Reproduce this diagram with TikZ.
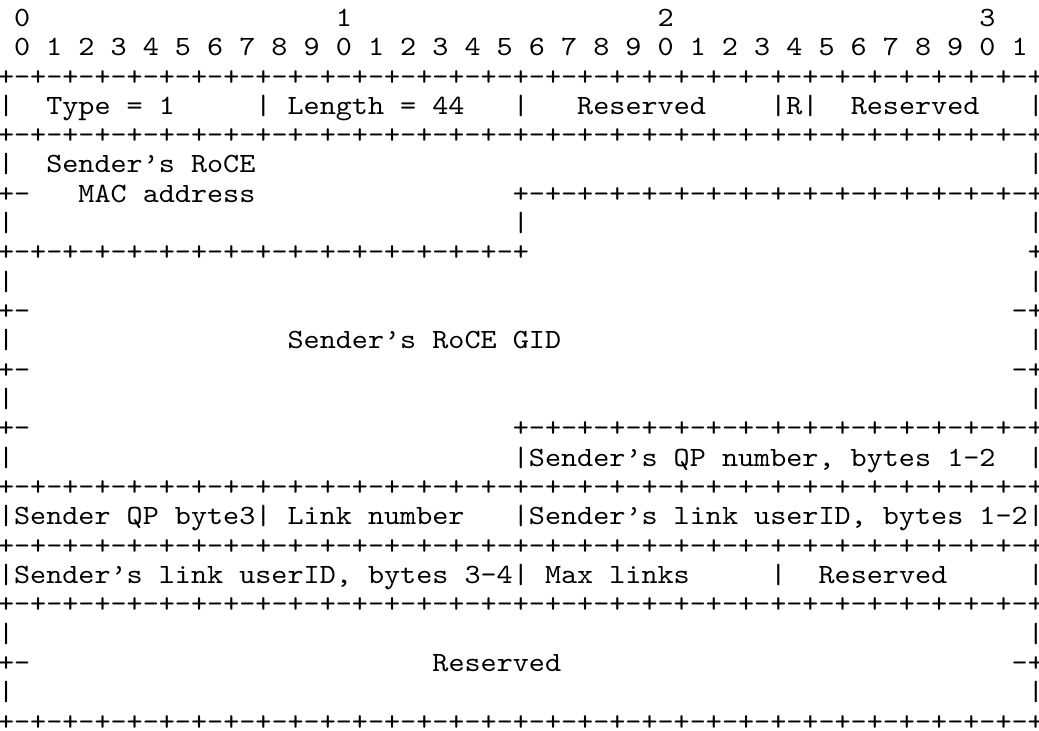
\documentclass[tikz,border=0pt]{standalone}
\usepackage{fontspec}
\usepackage{tikz}
\newfontfamily\asciifont{lmmono10-regular.otf}[FakeStretch=1.1]
\newcommand{\asciitype}{\fontsize{13.93pt}{14.66pt}\asciifont}
\newcommand{\fullrule}{+-+-+-+-+-+-+-+-+-+-+-+-+-+-+-+-+-+-+-+-+-+-+-+-+-+-+-+-+-+-+-+-+}
\newcommand{\halfrule}{+-+-+-+-+-+-+-+-+-+-+-+-+-+-+-+-+}
\tikzset{
ascii/.style={
anchor=base west,
inner sep=0pt,
outer sep=0pt,
font=\asciitype
}
}
\frenchspacing

\begin{document}
\begin{tikzpicture}[x=8.045pt,y=-14.66pt]
\useasboundingbox (0.124,-0.900) rectangle (64.70,24.03);

\foreach \c/\d in {1/0,21/1,41/2,61/3}
\node[ascii](dec\d) at (\c,0){\d};
\node[ascii](bits) at (1,1){0 1 2 3 4 5 6 7 8 9 0 1 2 3 4 5 6 7 8 9 0 1 2 3 4 5 6 7 8 9 0 1};

\foreach \r in {2,4,16,18,20,24}
\node[ascii](rule\r) at (0,\r){\fullrule};
\node[ascii](rule6) at (32,6){\halfrule};
\node[ascii](rule8) at (0,8){\halfrule};
\node[ascii](rule14) at (32,14){\halfrule};
\node[ascii](corner8) at (64,8){+};

\foreach \r in {6,10,12,14,22}
\node[ascii](tickl\r) at (0,\r){+-};
\foreach \r in {10,12,22}
\node[ascii](tickr\r) at (63,\r){-+};

\foreach \r/\c in {3/0,3/16,3/32,3/48,3/50,3/64,5/0,5/64,7/0,7/32,7/64,9/0,9/64,
11/0,11/64,13/0,13/64,15/0,15/32,15/64,17/0,17/16,17/32,17/64,
19/0,19/32,19/48,19/64,21/0,21/64,23/0,23/64}
\node[ascii](bar\r-\c) at (\c,\r){|};

\node[ascii](type) at (3,3){Type = 1};
\node[ascii](length) at (18,3){Length = 44};
\node[ascii](resvA) at (36,3){Reserved};
\node[ascii](rflag) at (49,3){R};
\node[ascii](resvB) at (53,3){Reserved};
\node[ascii](mac) at (3,5){Sender’s RoCE};
\node[ascii](macaddr) at (5,6){MAC address};
\node[ascii](gid) at (18,11){Sender’s RoCE GID};
\node[ascii](qpnum) at (33,15){Sender’s QP number, bytes 1-2};
\node[ascii](qpbyte) at (1,17){Sender QP byte3};
\node[ascii](linknum) at (18,17){Link number};
\node[ascii](userA) at (33,17){Sender’s link userID, bytes 1-2};
\node[ascii](userB) at (1,19){Sender’s link userID, bytes 3-4};
\node[ascii](maxlinks) at (34,19){Max links};
\node[ascii](resvC) at (51,19){Reserved};
\node[ascii](resvD) at (27,22){Reserved};
\end{tikzpicture}
\end{document}
